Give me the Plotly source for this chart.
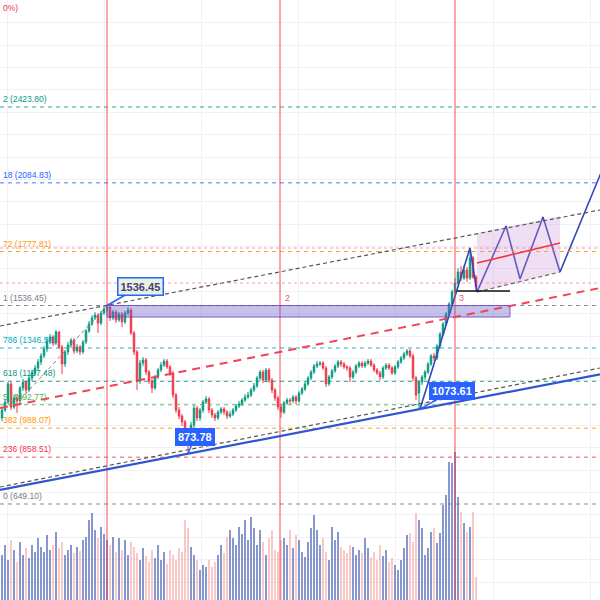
import plotly.graph_objects as go

# ---------------- data ----------------
bars = list(range(159))
opens = [1034, 1069, 1105, 1186, 1083, 1123, 1110, 1168, 1194, 1159,
         1212, 1235, 1257, 1284, 1311, 1342, 1378, 1396, 1369, 1418,
         1351, 1275, 1329, 1360, 1382, 1333, 1351, 1329, 1373, 1422,
         1454, 1481, 1494, 1458, 1503, 1521, 1530, 1481, 1507, 1472,
         1498, 1463, 1503, 1516, 1414, 1329, 1199, 1279, 1293, 1239,
         1199, 1168, 1217, 1248, 1270, 1288, 1262, 1235, 1136, 1069,
         1042, 1016, 980, 949, 1002, 1078, 1034, 1069, 1105, 1119,
         1069, 1047, 1034, 1060, 1074, 1060, 1042, 1051, 1069, 1087,
         1096, 1114, 1127, 1136, 1159, 1177, 1212, 1239, 1203, 1248,
         1203, 1159, 1123, 1083, 1060, 1101, 1114, 1110, 1127, 1110,
         1145, 1163, 1186, 1212, 1239, 1266, 1275, 1279, 1257, 1186,
         1217, 1244, 1266, 1284, 1275, 1262, 1257, 1217, 1239, 1266,
         1279, 1266, 1279, 1288, 1270, 1248, 1235, 1217, 1257, 1270,
         1257, 1235, 1262, 1284, 1302, 1320, 1333, 1311, 1212, 1145,
         1194, 1217, 1239, 1275, 1311, 1302, 1355, 1409, 1454, 1498,
         1543, 1597, 1637, 1686, 1659, 1695, 1659, 1749, 1664]
highs = [1083, 1119, 1194, 1194, 1136, 1141, 1177, 1208, 1203, 1226,
         1248, 1270, 1297, 1324, 1355, 1391, 1409, 1405, 1427, 1422,
         1360, 1338, 1373, 1391, 1391, 1364, 1360, 1382, 1431, 1467,
         1494, 1507, 1503, 1512, 1530, 1536.45, 1533, 1516, 1516, 1507,
         1507, 1512, 1530, 1525, 1422, 1338, 1293, 1306, 1302, 1248,
         1208, 1226, 1257, 1284, 1297, 1297, 1270, 1244, 1145, 1083,
         1051, 1025, 989, 1016, 1092, 1087, 1078, 1114, 1132, 1127,
         1078, 1056, 1069, 1083, 1083, 1069, 1065, 1078, 1096, 1110,
         1123, 1141, 1150, 1168, 1190, 1221, 1248, 1248, 1257, 1257,
         1212, 1168, 1132, 1096, 1110, 1123, 1123, 1136, 1136, 1154,
         1172, 1194, 1221, 1248, 1275, 1288, 1288, 1288, 1266, 1226,
         1253, 1275, 1293, 1293, 1284, 1270, 1266, 1248, 1275, 1288,
         1288, 1288, 1297, 1297, 1279, 1257, 1244, 1266, 1279, 1279,
         1266, 1270, 1293, 1311, 1329, 1342, 1342, 1320, 1221, 1203,
         1226, 1248, 1284, 1320, 1324, 1364, 1418, 1463, 1507, 1552,
         1606, 1659, 1704, 1713, 1718, 1709, 1793, 1758, 1673]
lows = [1020, 1060, 1096, 1069, 1074, 1056, 1101, 1154, 1145, 1150,
        1199, 1221, 1244, 1270, 1302, 1329, 1364, 1355, 1360, 1342,
        1230, 1262, 1315, 1346, 1320, 1324, 1315, 1320, 1364, 1414,
        1445, 1472, 1414, 1449, 1494, 1507, 1467, 1472, 1458, 1463,
        1440, 1454, 1494, 1405, 1315, 1159, 1186, 1266, 1226, 1186,
        1145, 1159, 1208, 1239, 1262, 1253, 1221, 1123, 1056, 1029,
        998, 962, 873.78, 931, 989, 1020, 1020, 1056, 1096, 1056,
        1034, 1020, 1025, 1051, 1047, 1029, 1034, 1042, 1060, 1078,
        1087, 1105, 1119, 1127, 1150, 1168, 1203, 1190, 1194, 1190,
        1145, 1110, 1069, 1034, 1051, 1092, 1096, 1101, 1096, 1101,
        1136, 1154, 1177, 1203, 1230, 1257, 1266, 1248, 1172, 1177,
        1208, 1235, 1257, 1262, 1253, 1244, 1194, 1208, 1230, 1257,
        1257, 1257, 1270, 1262, 1239, 1226, 1203, 1208, 1248, 1248,
        1226, 1226, 1253, 1275, 1293, 1311, 1302, 1199, 1114, 1073.61,
        1181, 1203, 1230, 1266, 1288, 1293, 1346, 1400, 1445, 1490,
        1534, 1588, 1628, 1646, 1650, 1642, 1650, 1655, 1601]
closes = [1069, 1105, 1186, 1083, 1123, 1110, 1168, 1194, 1159, 1212,
          1235, 1257, 1284, 1311, 1342, 1378, 1396, 1369, 1418, 1351,
          1275, 1329, 1360, 1382, 1333, 1351, 1329, 1373, 1422, 1454,
          1481, 1494, 1458, 1503, 1521, 1530, 1481, 1507, 1472, 1498,
          1463, 1503, 1516, 1414, 1329, 1199, 1279, 1293, 1239, 1199,
          1168, 1217, 1248, 1270, 1288, 1262, 1235, 1136, 1069, 1042,
          1016, 980, 949, 1002, 1078, 1034, 1069, 1105, 1119, 1069,
          1047, 1034, 1060, 1074, 1060, 1042, 1051, 1069, 1087, 1096,
          1114, 1127, 1136, 1159, 1177, 1212, 1239, 1203, 1248, 1203,
          1159, 1123, 1083, 1060, 1101, 1114, 1110, 1127, 1110, 1145,
          1163, 1186, 1212, 1239, 1266, 1275, 1279, 1257, 1186, 1217,
          1244, 1266, 1284, 1275, 1262, 1257, 1217, 1239, 1266, 1279,
          1266, 1279, 1288, 1270, 1248, 1235, 1217, 1257, 1270, 1257,
          1235, 1262, 1284, 1302, 1320, 1333, 1311, 1212, 1136, 1194,
          1217, 1239, 1275, 1311, 1302, 1355, 1409, 1454, 1498, 1543,
          1597, 1637, 1686, 1659, 1695, 1659, 1749, 1664, 1619]
volumes = [45, 55, 40, 60, 50, 38, 58, 45, 52, 42, 55, 48,
           62, 53, 48, 65, 50, 55, 68,
           52, 58, 45, 50, 55, 47, 53, 49, 60,
           63, 80, 87, 70, 62, 73, 66, 60,
           55, 63, 48, 62, 50, 60, 45,
           58, 53, 47, 40, 52, 44, 38, 50,
           42, 55, 40, 48, 36, 50, 45, 40, 52,
           48, 80, 72, 53, 45, 40,
           30, 35, 33, 40, 33, 38, 45, 55, 47,
           63, 70, 62, 55, 73, 66, 80, 60,
           83, 72, 55, 70, 58, 45, 62, 70,
           50, 48, 60, 62, 55, 70, 52, 65,
           60, 48, 43, 58, 72, 85, 70, 55,
           62, 48, 40, 73, 60, 68, 53, 50,
           47, 55, 53, 45, 50, 47, 62, 52,
           43, 48, 40, 55, 44, 50, 38, 42,
           35, 30, 40, 52, 65, 67, 58, 87,
           80, 72, 45, 52, 68, 72, 57,
           67, 95, 105, 138, 137, 148, 103, 88, 77, 68, 73, 88, 23]

fib_prices = [649.10, 858.51, 988.07, 1092.77, 1197.48, 1346.56, 1536.45, 1777.81, 2084.83, 2423.80]
# visible part of each level label, as it shows in the picture
fib_labels = ["0 (649.10)", "236 (858.51)", "382 (988.07)", "5 (1092.77)", "618 (1197.48)",
              "786 (1346.56)", "1 (1536.45)", "72 (1777.81)", "18 (2084.83)", "2 (2423.80)"]
top_label = "0%)"

# drawing anchors (bar index, price)
trend_lo_x = [-0.667, 199.333]; trend_lo_y = [711.9, 1228.6]
trend_lo_dash_y = [725.0, 1257.0]
trend_hi_x = [-0.667, 199.333]; trend_hi_y = [1444.8, 1963.4]
trend_rise_x = [6, 35]; trend_rise_y = [1114, 1536.45]
red_trend_x = [-0.667, 199.333]; red_trend_y = [1078.2, 1614.7]
zone_x = [35, 169.33]; zone_y = [1485, 1536.45]
chan_x = [158.33, 186]; chan_top = [1860.5, 1936.5]; chan_bot = [1596.8, 1686.2]; chan_mid = [1726.4, 1815.8]
zig_x = [139.33, 156, 158.33, 168, 172.67, 180.33, 186, 202.67]
zig_y = [1074, 1793.5, 1597.0, 1891.8, 1654.9, 1932.1, 1686.2, 2227.1]
base_x = [151.67, 169.33]; base_y = 1601.3
vlines_x = [35, 92.67, 151]
dotted_y = [1793.5, 1637.0]

# ---------------- styling ----------------
UP, DN = "#089981", "#f23645"
fib_colors = ["#787b86", "#f23645", "#ff9800", "#4caf50", "#089981", "#00acc1",
              "#787b86", "#ff9800", "#2962ff", "#089981"]

vol_colors = ["rgba(76,100,185,0.72)" if c >= o else "rgba(242,140,135,0.5)"
              for o, c in zip(opens, closes)]

fig = go.Figure()
fig.add_trace(go.Bar(x=bars, y=volumes, marker_color=vol_colors, marker_line_width=0,
                     width=0.62, yaxis="y", showlegend=False, hoverinfo="skip"))
fig.add_trace(go.Candlestick(x=bars, open=opens, high=highs, low=lows, close=closes,
                             increasing=dict(line=dict(color=UP, width=1), fillcolor=UP),
                             decreasing=dict(line=dict(color=DN, width=1), fillcolor=DN),
                             yaxis="y2", showlegend=False))
fig.add_trace(go.Scatter(x=zig_x, y=zig_y, mode="lines", yaxis="y2",
                         line=dict(color="#3346b8", width=1.6), showlegend=False, hoverinfo="skip"))

shapes = []
for p, col in zip(fib_prices, fib_colors):
    shapes.append(dict(type="line", xref="paper", yref="y2", x0=0, x1=1, y0=p, y1=p,
                       line=dict(color=col, width=1, dash="4px,4px"), opacity=0.85, layer="above"))
for p in dotted_y:
    shapes.append(dict(type="line", xref="paper", yref="y2", x0=0, x1=1, y0=p, y1=p,
                       line=dict(color="rgba(233,30,99,0.45)", width=1, dash="dot"), layer="above"))
for vx in vlines_x:
    shapes.append(dict(type="line", xref="x", yref="paper", x0=vx, x1=vx, y0=0, y1=1,
                       line=dict(color="rgba(242,54,69,0.6)", width=1.5), layer="above"))
shapes.append(dict(type="rect", xref="x", yref="y2", x0=zone_x[0], x1=zone_x[1],
                   y0=zone_y[0], y1=zone_y[1], fillcolor="rgba(103,93,200,0.38)",
                   line=dict(color="rgba(103,70,190,0.85)", width=1), layer="above"))
path = (f"M {chan_x[0]},{chan_top[0]} L {chan_x[1]},{chan_top[1]} "
        f"L {chan_x[1]},{chan_bot[1]} L {chan_x[0]},{chan_bot[0]} Z")
shapes.append(dict(type="path", xref="x", yref="y2", path=path,
                   fillcolor="rgba(206,147,216,0.3)", line=dict(width=0), layer="above"))
shapes.append(dict(type="line", xref="x", yref="y2", x0=chan_x[0], x1=chan_x[1],
                   y0=chan_bot[0], y1=chan_bot[1], line=dict(color="#666", width=1.2, dash="4px,3px"),
                   layer="above"))
shapes.append(dict(type="line", xref="x", yref="y2", x0=chan_x[0], x1=chan_x[1],
                   y0=chan_mid[0], y1=chan_mid[1], line=dict(color="#f23645", width=1.6), layer="above"))
shapes.append(dict(type="line", xref="x", yref="y2", x0=trend_lo_x[0], x1=trend_lo_x[1],
                   y0=trend_lo_y[0], y1=trend_lo_y[1], line=dict(color="#2f56d0", width=2.2), layer="above"))
shapes.append(dict(type="line", xref="x", yref="y2", x0=trend_lo_x[0], x1=trend_lo_x[1],
                   y0=trend_lo_dash_y[0], y1=trend_lo_dash_y[1],
                   line=dict(color="#555", width=1.2, dash="4px,3px"), layer="above"))
shapes.append(dict(type="line", xref="x", yref="y2", x0=trend_hi_x[0], x1=trend_hi_x[1],
                   y0=trend_hi_y[0], y1=trend_hi_y[1],
                   line=dict(color="#555", width=1.2, dash="4px,3px"), layer="above"))
shapes.append(dict(type="line", xref="x", yref="y2", x0=trend_rise_x[0], x1=trend_rise_x[1],
                   y0=trend_rise_y[0], y1=trend_rise_y[1],
                   line=dict(color="#888", width=1, dash="4px,3px"), layer="above"))
shapes.append(dict(type="line", xref="x", yref="y2", x0=red_trend_x[0], x1=red_trend_x[1],
                   y0=red_trend_y[0], y1=red_trend_y[1],
                   line=dict(color="#ee4455", width=2, dash="8px,6px"), layer="above"))
shapes.append(dict(type="line", xref="x", yref="y2", x0=base_x[0], x1=base_x[1],
                   y0=base_y, y1=base_y, line=dict(color="#111", width=1.6), layer="above"))

annotations = []
FONT = "Liberation Sans, Arial, sans-serif"
for lbl, p, col in zip(fib_labels, fib_prices, fib_colors):
    annotations.append(dict(xref="paper", yref="y2", x=1 / 600, y=p, xanchor="left",
                            yanchor="bottom", yshift=1, showarrow=False,
                            text=lbl, font=dict(size=8.5, color=col, family=FONT)))
annotations.append(dict(xref="paper", yref="paper", x=1 / 600, y=1 - 1 / 600, xanchor="left",
                        yanchor="top", showarrow=False, text=top_label,
                        font=dict(size=8.5, color="#f23645", family=FONT)))
for lbl, bx in zip(["2", "3"], [95.0, 153.3]):
    annotations.append(dict(xref="x", yref="y2", x=bx, y=1570, showarrow=False, text=lbl,
                            font=dict(size=9, color="#e0606e", family=FONT)))
annotations.append(dict(xref="x", yref="y2", x=35, y=1536.45, ax=33, ay=-19,
                        text="<b>1536.45</b>", showarrow=True, arrowhead=0, arrowwidth=1.5,
                        arrowcolor="#2962ff", bgcolor="#e6f3dc", bordercolor="#2962ff",
                        borderwidth=1.5, borderpad=2,
                        font=dict(size=11, color="#4b3a82", family=FONT)))
annotations.append(dict(xref="x", yref="y2", x=62, y=873.78, ax=7, ay=-17,
                        text="<b>873.78</b>", showarrow=True, arrowhead=0, arrowwidth=1.5,
                        arrowcolor="#2962ff", bgcolor="#2962ff", bordercolor="#2962ff",
                        borderwidth=1, borderpad=2,
                        font=dict(size=11, color="white", family=FONT)))
annotations.append(dict(xref="x", yref="y2", x=139.33, y=1073.61, ax=32, ay=-18,
                        text="<b>1073.61</b>", showarrow=True, arrowhead=0, arrowwidth=1.5,
                        arrowcolor="#2962ff", bgcolor="#2962ff", bordercolor="#2962ff",
                        borderwidth=1, borderpad=2,
                        font=dict(size=11, color="white", family=FONT)))

GRID = "#eef1f6"
fig.update_layout(
    width=600, height=600, margin=dict(l=0, r=0, t=0, b=0),
    paper_bgcolor="white", plot_bgcolor="white", showlegend=False,
    xaxis=dict(range=[-0.667, 199.333], showgrid=True, gridcolor=GRID, tick0=1.67, dtick=32.4,
               showticklabels=False, zeroline=False, rangeslider=dict(visible=False),
               ticks="", showline=False),
    yaxis=dict(range=[0, 600], visible=False, showgrid=False, fixedrange=True),
    yaxis2=dict(range=[219.95, 2902.13], overlaying="y", side="left", showgrid=True,
                gridcolor=GRID, tick0=0, dtick=100, showticklabels=False, zeroline=False,
                ticks="", showline=False),
    shapes=shapes, annotations=annotations,
)

fig.write_html("out.html", config={"displayModeBar": False},
               post_script="document.body.style.margin='0px';")
